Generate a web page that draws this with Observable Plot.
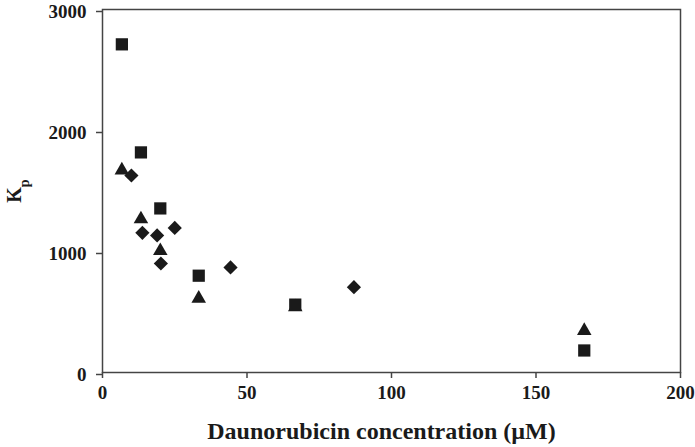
<!DOCTYPE html>
<html>
<head>
<meta charset="utf-8">
<script src="https://cdn.jsdelivr.net/npm/d3@7"></script>
<script src="https://cdn.jsdelivr.net/npm/@observablehq/plot@0.6"></script>
<style>
  html, body { margin: 0; padding: 0; background: #fff; }
  #chart svg { font-family: "Liberation Serif", "Times New Roman", serif; }
</style>
</head>
<body>
<div id="chart"></div>
<script>
// Series 1: squares
const squareX = [6.7, 13.3, 20, 33.3, 66.7, 166.7];
const squareY = [2712, 1819, 1356, 800, 561, 182];
// Series 2: triangles
const triangleX = [6.7, 13.3, 20, 33.3, 66.7, 166.7];
const triangleY = [1672, 1268, 1005, 612, 540, 345];
// Series 3: diamonds
const diamondX = [10, 13.8, 18.9, 25, 20.2, 44.3, 87];
const diamondY = [1628, 1154, 1133, 1195, 901, 868, 705];

const xTicks = [0, 50, 100, 150, 200];
const yTicks = [0, 1000, 2000, 3000];
const xTitle = "Daunorubicin concentration (µM)";
const yTitle = "Kp";

const toRows = (xs, ys) => xs.map((x, i) => ({x, y: ys[i]}));
const squares = toRows(squareX, squareY);
const triangles = toRows(triangleX, triangleY);
const diamonds = toRows(diamondX, diamondY);

const ink = "#1a1a1a";
const axisColor = "#444";

const chart = Plot.plot({
  width: 695,
  height: 447,
  marginLeft: 102,
  marginRight: 15,
  marginTop: 9,
  marginBottom: 75,
  style: {fontFamily: "'Liberation Serif', 'Times New Roman', serif", background: "#fff"},
  x: {domain: [0, 200]},
  y: {domain: [0, 3000]},
  marks: [
    Plot.frame({stroke: axisColor, strokeWidth: 1.5}),
    Plot.axisX({
      ticks: xTicks, tickFormat: d => String(d), tickSize: 6, tickPadding: 7,
      stroke: axisColor, strokeWidth: 1.5, fontSize: 19, fontWeight: "bold", fill: ink,
      label: null
    }),
    Plot.axisY({
      ticks: yTicks, tickFormat: d => String(d), tickSize: 6, tickPadding: 10, dy: 2,
      stroke: axisColor, strokeWidth: 1.5, fontSize: 19, fontWeight: "bold", fill: ink,
      label: yTitle, labelAnchor: "center", labelArrow: "none", labelOffset: 96
    }),
    Plot.text([xTitle], {
      frameAnchor: "bottom", dy: 66, dx: -10, text: d => d,
      fontSize: 24, fontWeight: "bold", fill: ink
    }),
    Plot.dot(triangles, {x: "x", y: "y", symbol: "triangle", r: 5.4, fill: ink, stroke: "none"}),
    Plot.dot(diamonds, {x: "x", y: "y", symbol: "diamond2", r: 6.4, fill: ink, stroke: "none"}),
    Plot.dot(squares, {x: "x", y: "y", symbol: "square", r: 6.9, fill: ink, stroke: "none"})
  ]
});

document.getElementById("chart").appendChild(chart);

// Render the subscript in the y-axis label
const lbl = d3.select(chart).select('g[aria-label="y-axis label"] text');
if (!lbl.empty()) {
  lbl.text(null)
    .attr("font-size", 20)
    .attr("font-weight", "bold")
    .attr("fill", ink);
  lbl.append("tspan").text("K");
  lbl.append("tspan").attr("baseline-shift", "sub").attr("font-size", 14).text("p");
}
</script>
</body>
</html>
